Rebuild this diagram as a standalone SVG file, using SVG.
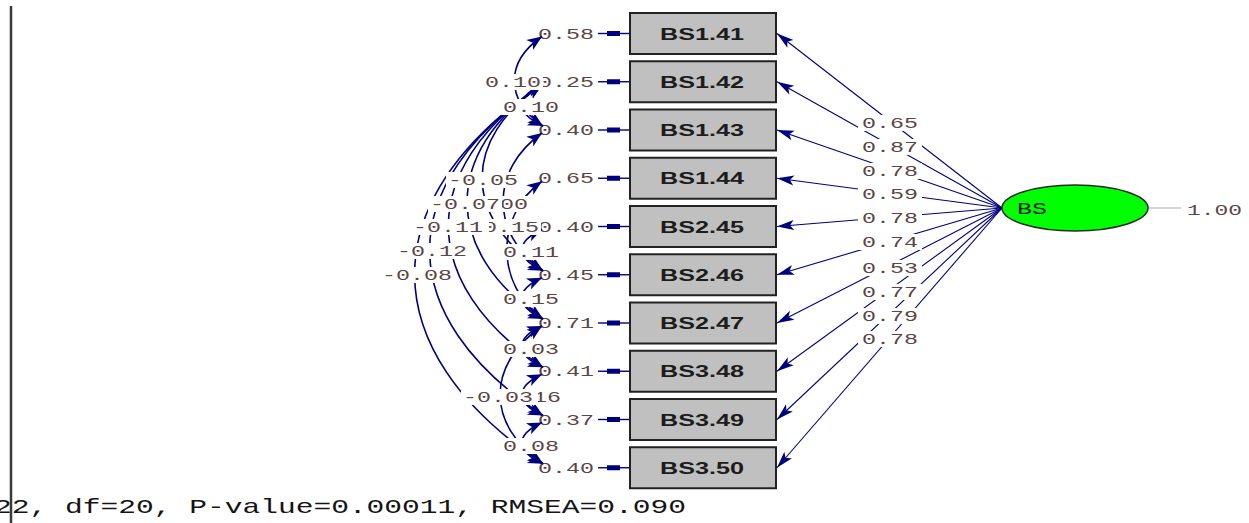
<svg xmlns="http://www.w3.org/2000/svg" width="1249" height="523" viewBox="0 0 1249 523">
  <style>
    .num { font-family: "Liberation Mono", "DejaVu Sans Mono", monospace; font-size: 15px; fill: #5b4545; }
    .bg { fill: #ffffff; }
    .box rect { fill: #c0c0c0; stroke: #222222; stroke-width: 2; }
    .box text { font-family: "Liberation Sans", Arial, sans-serif; font-size: 16px; font-weight: bold; fill: #1c1c1c; }
    .load { stroke: #00007f; stroke-width: 1.1; fill: none; marker-end: url(#arrowR); }
    .cov { stroke: #00007f; stroke-width: 1.6; fill: none; marker-start: url(#arrowL); marker-end: url(#arrowL); }
    .err line { stroke: #00007f; stroke-width: 1.4; }
    .err rect.tip { fill: #00007f; }
    .foot { font-family: "Liberation Mono", "DejaVu Sans Mono", monospace; font-size: 21px; fill: #141414; }
  </style>
  <defs>
    <marker id="arrowR" markerUnits="userSpaceOnUse" markerWidth="20" markerHeight="12" refX="0" refY="0" orient="auto" overflow="visible">
      <path d="M0,0 L-17,-5 L-13,0 L-17,5 z" fill="#00007f"/>
    </marker>
    <marker id="arrowL" markerUnits="userSpaceOnUse" markerWidth="16" markerHeight="14" refX="0" refY="0" orient="auto-start-reverse" overflow="visible">
      <path d="M0,0 L-15,-6 L-11,0 L-15,6 z" fill="#00007f"/>
    </marker>
  </defs>

  <rect x="0" y="0" width="1249" height="523" fill="#ffffff"/>
  <line x1="11" y1="6" x2="11" y2="523" stroke="#3a3a3a" stroke-width="2.5"/>

  <!-- error variances with their short arrows into the indicators -->
  <g id="errors" class="err">
    <line x1="598" y1="33.5" x2="630" y2="33.5"/><rect class="tip" x="607" y="31" width="13" height="5"/>
    <line x1="598" y1="81.75" x2="630" y2="81.75"/><rect class="tip" x="607" y="79.25" width="13" height="5"/>
    <line x1="598" y1="130" x2="630" y2="130"/><rect class="tip" x="607" y="127.5" width="13" height="5"/>
    <line x1="598" y1="178.25" x2="630" y2="178.25"/><rect class="tip" x="607" y="175.75" width="13" height="5"/>
    <line x1="598" y1="226.5" x2="630" y2="226.5"/><rect class="tip" x="607" y="224" width="13" height="5"/>
    <line x1="598" y1="274.75" x2="630" y2="274.75"/><rect class="tip" x="607" y="272.25" width="13" height="5"/>
    <line x1="598" y1="323" x2="630" y2="323"/><rect class="tip" x="607" y="320.5" width="13" height="5"/>
    <line x1="598" y1="371.25" x2="630" y2="371.25"/><rect class="tip" x="607" y="368.75" width="13" height="5"/>
    <line x1="598" y1="419.5" x2="630" y2="419.5"/><rect class="tip" x="607" y="417" width="13" height="5"/>
    <line x1="598" y1="467.75" x2="630" y2="467.75"/><rect class="tip" x="607" y="465.25" width="13" height="5"/>
    <text class="num" x="538" y="38.5" textLength="56" lengthAdjust="spacingAndGlyphs">0.58</text>
    <text class="num" x="538" y="86.75" textLength="56" lengthAdjust="spacingAndGlyphs">0.25</text>
    <text class="num" x="538" y="135" textLength="56" lengthAdjust="spacingAndGlyphs">0.40</text>
    <text class="num" x="538" y="183.25" textLength="56" lengthAdjust="spacingAndGlyphs">0.65</text>
    <text class="num" x="538" y="231.5" textLength="56" lengthAdjust="spacingAndGlyphs">0.40</text>
    <text class="num" x="538" y="279.75" textLength="56" lengthAdjust="spacingAndGlyphs">0.45</text>
    <text class="num" x="538" y="328" textLength="56" lengthAdjust="spacingAndGlyphs">0.71</text>
    <text class="num" x="538" y="376.25" textLength="56" lengthAdjust="spacingAndGlyphs">0.41</text>
    <text class="num" x="538" y="424.5" textLength="56" lengthAdjust="spacingAndGlyphs">0.37</text>
    <text class="num" x="538" y="472.75" textLength="56" lengthAdjust="spacingAndGlyphs">0.40</text>
  </g>

  <g id="connectors">
    <!-- loadings from the latent factor to each indicator -->
    <line class="load" x1="1002" y1="208" x2="777" y2="33.5"/>
    <line class="load" x1="1002" y1="208" x2="777" y2="81.75"/>
    <line class="load" x1="1002" y1="208" x2="777" y2="130"/>
    <line class="load" x1="1002" y1="208" x2="777" y2="178.25"/>
    <line class="load" x1="1002" y1="208" x2="777" y2="226.5"/>
    <line class="load" x1="1002" y1="208" x2="777" y2="274.75"/>
    <line class="load" x1="1002" y1="208" x2="777" y2="323"/>
    <line class="load" x1="1002" y1="208" x2="777" y2="371.25"/>
    <line class="load" x1="1002" y1="208" x2="777" y2="419.5"/>
    <line class="load" x1="1002" y1="208" x2="777" y2="467.75"/>
    <line x1="1148" y1="208" x2="1181" y2="208" stroke="#c8c8c8" stroke-width="1.5"/>

    <!-- error covariances -->
    <path class="cov" d="M542,36.5 C505,62 505,100 543,126"/>
    <path class="cov" d="M542,84.75 C515,97 515,113 543,126"/>
    <path class="cov" d="M542,84.75 C462,139 462,217 543,270.75"/>
    <path class="cov" d="M542,84.75 C442,152 442,252 543,319"/>
    <path class="cov" d="M542,84.75 C417,169 417,283 543,367.25"/>
    <path class="cov" d="M542,84.75 C392,185 392,315.5 543,415.5"/>
    <path class="cov" d="M542,84.75 C372,199 372,350 543,463.75"/>
    <path class="cov" d="M542,133 C490,170 490,234 543,270.75"/>
    <path class="cov" d="M542,181.25 C495,215 495,285 543,319"/>
    <path class="cov" d="M542,229.5 C515,242 515,258 543,270.75"/>
    <path class="cov" d="M542,277.75 C515,290 515,306 543,319"/>
    <path class="cov" d="M542,326 C515,338 515,355 543,367.25"/>
    <path class="cov" d="M542,326 C486,365 486,425 543,463.75"/>
    <path class="cov" d="M542,374.25 C515,387 515,403 543,415.5"/>
    <path class="cov" d="M542,422.5 C515,435 515,451 543,463.75"/>

    <!-- loading values -->
    <g id="loading-labels">
      <rect class="bg" x="858" y="115" width="64" height="16"/><text class="num" x="862" y="128" textLength="56" lengthAdjust="spacingAndGlyphs">0.65</text>
      <rect class="bg" x="858" y="139" width="64" height="16"/><text class="num" x="862" y="152" textLength="56" lengthAdjust="spacingAndGlyphs">0.87</text>
      <rect class="bg" x="858" y="163" width="64" height="16"/><text class="num" x="862" y="176" textLength="56" lengthAdjust="spacingAndGlyphs">0.78</text>
      <rect class="bg" x="858" y="186" width="64" height="16"/><text class="num" x="862" y="199" textLength="56" lengthAdjust="spacingAndGlyphs">0.59</text>
      <rect class="bg" x="858" y="210" width="64" height="16"/><text class="num" x="862" y="223" textLength="56" lengthAdjust="spacingAndGlyphs">0.78</text>
      <rect class="bg" x="858" y="234" width="64" height="16"/><text class="num" x="862" y="247" textLength="56" lengthAdjust="spacingAndGlyphs">0.74</text>
      <rect class="bg" x="858" y="260" width="64" height="16"/><text class="num" x="862" y="273" textLength="56" lengthAdjust="spacingAndGlyphs">0.53</text>
      <rect class="bg" x="858" y="284" width="64" height="16"/><text class="num" x="862" y="297" textLength="56" lengthAdjust="spacingAndGlyphs">0.77</text>
      <rect class="bg" x="858" y="308" width="64" height="16"/><text class="num" x="862" y="321" textLength="56" lengthAdjust="spacingAndGlyphs">0.79</text>
      <rect class="bg" x="858" y="331" width="64" height="16"/><text class="num" x="862" y="344" textLength="56" lengthAdjust="spacingAndGlyphs">0.78</text>
    </g>

    <!-- covariance values -->
    <g id="covariance-labels">
      <rect class="bg" x="483" y="74" width="60" height="16"/><text class="num" x="485" y="87" textLength="56" lengthAdjust="spacingAndGlyphs">0.10</text>
      <rect class="bg" x="501" y="99" width="60" height="16"/><text class="num" x="503" y="112" textLength="56" lengthAdjust="spacingAndGlyphs">0.10</text>
      <rect class="bg" x="446" y="172" width="74" height="16"/><text class="num" x="448" y="185" textLength="70" lengthAdjust="spacingAndGlyphs">-0.05</text>
      <rect class="bg" x="470" y="196" width="60" height="16"/><text class="num" x="472" y="209" textLength="56" lengthAdjust="spacingAndGlyphs">0.00</text>
      <rect class="bg" x="428" y="196" width="74" height="16"/><text class="num" x="430" y="209" textLength="70" lengthAdjust="spacingAndGlyphs">-0.07</text>
      <rect class="bg" x="481" y="219" width="60" height="16"/><text class="num" x="483" y="232" textLength="56" lengthAdjust="spacingAndGlyphs">0.15</text>
      <rect class="bg" x="411" y="219" width="78" height="16"/><text class="num" x="413" y="232" textLength="70" lengthAdjust="spacingAndGlyphs">-0.11</text>
      <rect class="bg" x="395" y="243" width="74" height="16"/><text class="num" x="397" y="256" textLength="70" lengthAdjust="spacingAndGlyphs">-0.12</text>
      <rect class="bg" x="501" y="244" width="60" height="16"/><text class="num" x="503" y="257" textLength="56" lengthAdjust="spacingAndGlyphs">0.11</text>
      <rect class="bg" x="380" y="267" width="74" height="16"/><text class="num" x="382" y="280" textLength="70" lengthAdjust="spacingAndGlyphs">-0.08</text>
      <rect class="bg" x="501" y="291" width="60" height="16"/><text class="num" x="503" y="304" textLength="56" lengthAdjust="spacingAndGlyphs">0.15</text>
      <rect class="bg" x="501" y="341" width="60" height="16"/><text class="num" x="503" y="354" textLength="56" lengthAdjust="spacingAndGlyphs">0.03</text>
      <rect class="bg" x="503" y="389" width="60" height="16"/><text class="num" x="505" y="402" textLength="56" lengthAdjust="spacingAndGlyphs">0.16</text>
      <rect class="bg" x="461" y="389" width="77" height="16"/><text class="num" x="463" y="402" textLength="70" lengthAdjust="spacingAndGlyphs">-0.03</text>
      <rect class="bg" x="501" y="438" width="60" height="16"/><text class="num" x="503" y="451" textLength="56" lengthAdjust="spacingAndGlyphs">0.08</text>
    </g>
  </g>

  <!-- indicator boxes -->
  <g id="BS1.41" class="box"><rect x="630" y="13" width="146" height="41"/><text x="660" y="39.5" textLength="84" lengthAdjust="spacingAndGlyphs">BS1.41</text></g>
  <g id="BS1.42" class="box"><rect x="630" y="61.25" width="146" height="41"/><text x="660" y="87.75" textLength="84" lengthAdjust="spacingAndGlyphs">BS1.42</text></g>
  <g id="BS1.43" class="box"><rect x="630" y="109.5" width="146" height="41"/><text x="660" y="136" textLength="84" lengthAdjust="spacingAndGlyphs">BS1.43</text></g>
  <g id="BS1.44" class="box"><rect x="630" y="157.75" width="146" height="41"/><text x="660" y="184.25" textLength="84" lengthAdjust="spacingAndGlyphs">BS1.44</text></g>
  <g id="BS2.45" class="box"><rect x="630" y="206" width="146" height="41"/><text x="660" y="232.5" textLength="84" lengthAdjust="spacingAndGlyphs">BS2.45</text></g>
  <g id="BS2.46" class="box"><rect x="630" y="254.25" width="146" height="41"/><text x="660" y="280.75" textLength="84" lengthAdjust="spacingAndGlyphs">BS2.46</text></g>
  <g id="BS2.47" class="box"><rect x="630" y="302.5" width="146" height="41"/><text x="660" y="329" textLength="84" lengthAdjust="spacingAndGlyphs">BS2.47</text></g>
  <g id="BS3.48" class="box"><rect x="630" y="350.75" width="146" height="41"/><text x="660" y="377.25" textLength="84" lengthAdjust="spacingAndGlyphs">BS3.48</text></g>
  <g id="BS3.49" class="box"><rect x="630" y="399" width="146" height="41"/><text x="660" y="425.5" textLength="84" lengthAdjust="spacingAndGlyphs">BS3.49</text></g>
  <g id="BS3.50" class="box"><rect x="630" y="447.25" width="146" height="41"/><text x="660" y="473.75" textLength="84" lengthAdjust="spacingAndGlyphs">BS3.50</text></g>

  <!-- latent factor -->
  <g id="BS">
    <ellipse cx="1075" cy="208" rx="73" ry="23" fill="#00ff00" stroke="#2a2a2a" stroke-width="1.5"/>
    <text x="1017" y="214" font-family="'Liberation Mono', monospace" font-size="17" fill="#1a1a1a" textLength="30" lengthAdjust="spacingAndGlyphs">BS</text>
    <text class="num" x="1187" y="215" textLength="55" lengthAdjust="spacingAndGlyphs">1.00</text>
  </g>

  <text class="foot" x="-6" y="513" textLength="692" lengthAdjust="spacingAndGlyphs">22, df=20, P-value=0.00011, RMSEA=0.090</text>
</svg>
